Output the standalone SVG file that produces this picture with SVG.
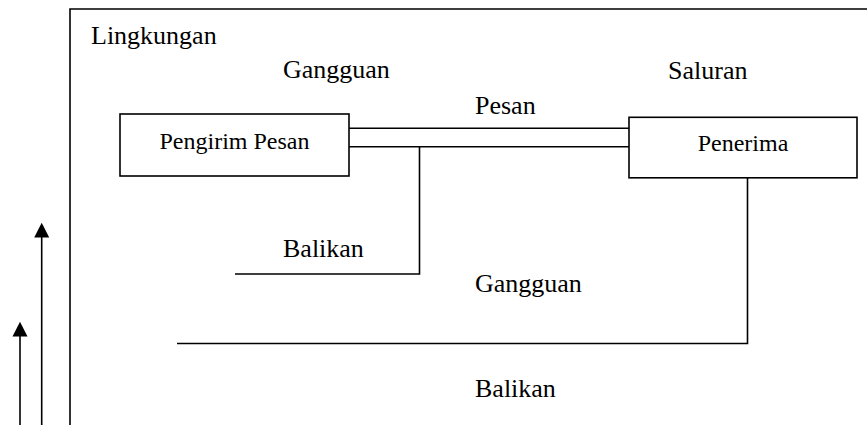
<svg xmlns="http://www.w3.org/2000/svg" width="867" height="425" viewBox="0 0 867 425">
<defs>
<style>
.ln{fill:none;stroke:#000;stroke-width:1.6}
.box{fill:#fff;stroke:#000;stroke-width:1.6}
text{font-family:'Liberation Serif','Tinos','Times New Roman','DejaVu Serif',serif;fill:#000}
.t{font-size:26px}
.bt{font-size:24px;text-anchor:middle}
</style>
</defs>
<rect width="867" height="425" fill="#fff"/>
<g id="frame">
<path class="ln" d="M70,425 V9 H867"/>
<text class="t" x="91" y="44" font-family="Liberation Serif, serif">Lingkungan</text>
</g>
<g id="connectors">
<path class="ln" d="M349,128.3 H629"/>
<path class="ln" d="M349,146.7 H629"/>
<path class="ln" d="M419.5,146.7 V274 H235"/>
<path class="ln" d="M747.5,178 V343.5 H177"/>
<line class="ln" x1="20" y1="425" x2="20" y2="336"/>
<path d="M12.5,336.5 L20,321.7 L27.5,336.5 Z" fill="#000"/>
<line class="ln" x1="41.7" y1="425" x2="41.7" y2="237"/>
<path d="M34.2,237.5 L41.7,222.7 L49.2,237.5 Z" fill="#000"/>
</g>
<g id="pengirim">
<rect class="box" x="120" y="114" width="229" height="62"/>
<text class="bt" x="234.5" y="149">Pengirim Pesan</text>
</g>
<g id="penerima">
<rect class="box" x="629" y="117.3" width="228" height="60.5"/>
<text class="bt" x="743" y="150.5">Penerima</text>
</g>
<g id="labels">
<text class="t" x="283" y="77.5">Gangguan</text>
<text class="t" x="668" y="79.3">Saluran</text>
<text class="t" x="475" y="114">Pesan</text>
<text class="t" x="283" y="256.7">Balikan</text>
<text class="t" x="475" y="291.7">Gangguan</text>
<text class="t" x="475" y="396.7">Balikan</text>
</g>
</svg>
